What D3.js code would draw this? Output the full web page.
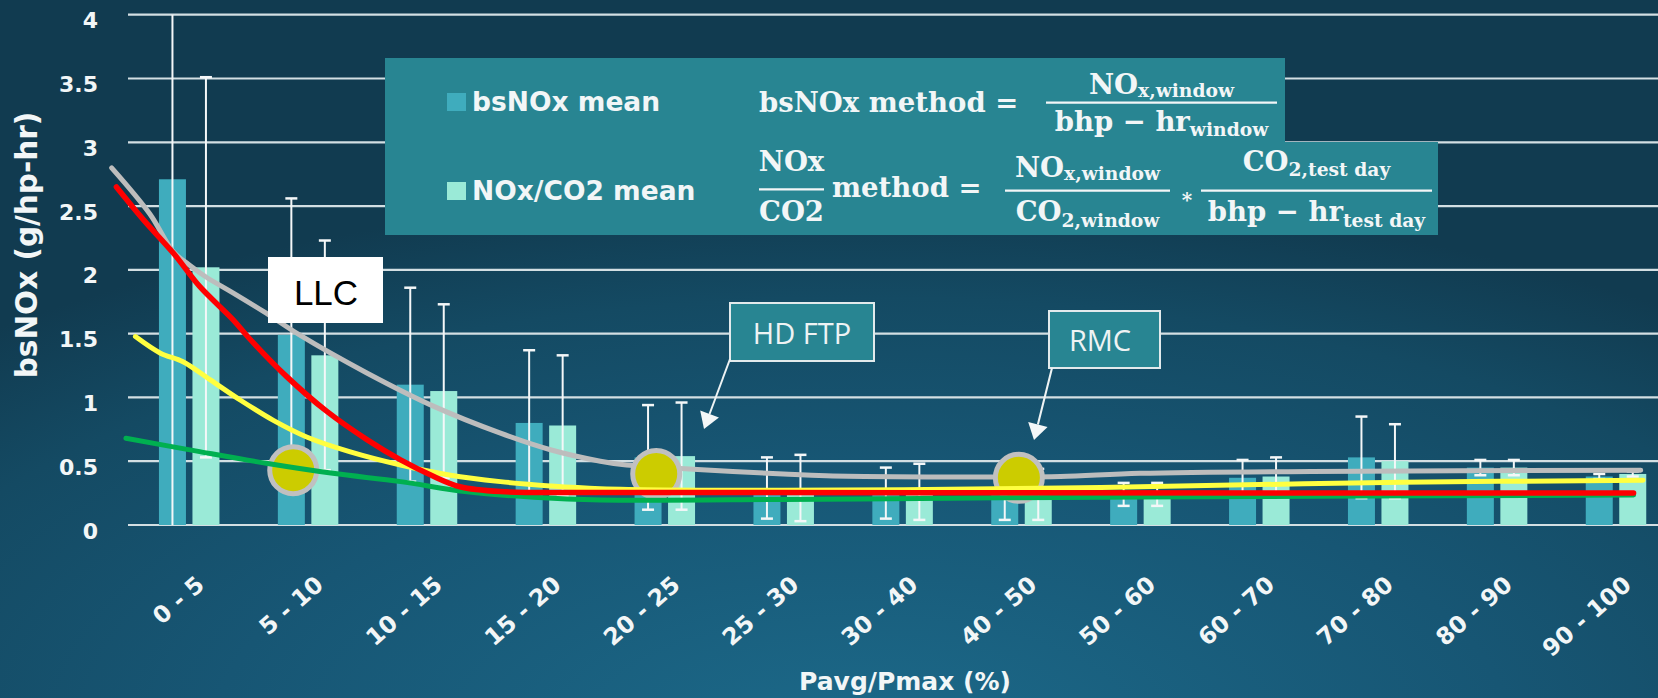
<!DOCTYPE html>
<html><head><meta charset="utf-8">
<script src="https://cdn.jsdelivr.net/npm/d3@7/dist/d3.min.js"></script>
<style>html,body{margin:0;padding:0;background:#123d52;overflow:hidden}svg{display:block}</style>
</head><body><svg id="c" width="1658" height="698"></svg>
<script>
// ---------- data ----------
const categories = ["0 - 5","5 - 10","10 - 15","15 - 20","20 - 25","25 - 30","30 - 40","40 - 50","50 - 60","60 - 70","70 - 80","80 - 90","90 - 100"];
const bsnoxMean = [2.71,1.49,1.10,0.80,0.53,0.29,0.25,0.24,0.24,0.37,0.53,0.45,0.38];
const bsnoxErr  = [2.90,1.07,0.76,0.57,0.41,0.24,0.20,0.20,0.09,0.14,0.32,0.06,0.02];
const co2Mean   = [2.02,1.33,1.05,0.78,0.54,0.29,0.26,0.24,0.24,0.38,0.50,0.45,0.40];
const co2Err    = [1.49,0.90,0.68,0.55,0.42,0.26,0.22,0.20,0.09,0.15,0.29,0.06,0.02];
const yTicks = [0,0.5,1,1.5,2,2.5,3,3.5,4];
// curves: [position in category units, value]
const grayCurve = [[-0.65,2.80],[-0.33,2.44],[-0.13,2.14],[0.00,2.04],[0.15,1.94],[0.37,1.82],[0.65,1.66],[0.93,1.49],[1.50,1.19],[2.06,0.93],[2.62,0.72],[3.04,0.59],[3.46,0.50],[3.68,0.47],[4.24,0.437],[5.00,0.40],[5.36,0.386],[6.76,0.376],[7.33,0.38],[8.00,0.405],[9.44,0.42],[12.21,0.43]];
const redCurve = [[-0.61,2.65],[-0.38,2.39],[-0.13,2.13],[0.09,1.87],[0.37,1.61],[0.51,1.46],[0.82,1.165],[1.16,0.89],[1.50,0.667],[1.78,0.51],[2.06,0.38],[2.28,0.30],[2.62,0.262],[3.46,0.255],[6.82,0.253],[12.15,0.25]];
const yellowCurve = [[-0.45,1.477],[-0.24,1.347],[-0.05,1.28],[0.18,1.137],[0.43,0.98],[0.71,0.82],[0.99,0.69],[1.35,0.575],[1.78,0.47],[2.20,0.39],[2.62,0.34],[3.04,0.306],[3.46,0.285],[4.99,0.272],[7.33,0.29],[8.00,0.30],[10.20,0.335],[12.23,0.35]];
const greenCurve = [[-0.53,0.68],[0.09,0.575],[0.65,0.484],[1.21,0.405],[1.78,0.34],[2.34,0.26],[2.90,0.217],[3.46,0.196],[4.99,0.20],[6.40,0.21],[8.00,0.22],[12.15,0.235]];
const cyclePoints = [[0.877,0.43],[3.93,0.40],[6.98,0.37]];
const legendLabels = ["bsNOx mean","NOx/CO2 mean"];
const cycleLabels = ["LLC","HD FTP","RMC"];

// ---------- layout ----------
const W=1658,H=698;
const svg=d3.select("#c");
const defs=svg.append("defs");
const grad=defs.append("radialGradient").attr("id","bg").attr("cx",0.52).attr("cy",1.05).attr("r",0.78);
[[0,"#1c6989"],[0.5,"#175674"],[0.8,"#144a63"],[1,"#113b50"]].forEach(([o,c])=>grad.append("stop").attr("offset",o).attr("stop-color",c));
svg.append("rect").attr("width",W).attr("height",H).attr("fill","url(#bg)");

const TXT="#f2f6f7";
const x=d3.scaleBand().domain(categories).range([129.5,1675.2]).paddingInner(0).paddingOuter(0);
const y=d3.scaleLinear().domain([0,4]).range([525,14.7]);
const cx=c=>x(c)+x.bandwidth()/2;
const xPos=d3.scaleLinear().domain([0,categories.length-1]).range([cx(categories[0]),cx(categories[categories.length-1])]);

// grid
svg.append("g").selectAll("line").data(yTicks).join("line")
  .attr("x1",128).attr("x2",W).attr("y1",d=>y(d)).attr("y2",d=>y(d))
  .attr("stroke","#d3dfe3").attr("stroke-width",2.2);

// y tick labels
svg.append("g").selectAll("text").data(yTicks).join("text")
  .attr("x",98).attr("y",d=>y(d)+6).attr("text-anchor","end").attr("dominant-baseline","central")
  .attr("font-family","DejaVu Sans").attr("font-weight","bold").attr("font-size",22).attr("fill",TXT)
  .text(d=>String(d));

// bars
const BW=27;
const series=[
  {mean:bsnoxMean,err:bsnoxErr,off:-30,color:"#3facbd"},
  {mean:co2Mean,err:co2Err,off:3.5,color:"#9aead7"}
];
const barG=svg.append("g"), errG=svg.append("g");
series.forEach(s=>{
  barG.selectAll(null).data(categories).join("rect")
    .attr("x",c=>cx(c)+s.off).attr("width",BW)
    .attr("y",(c,i)=>y(s.mean[i])).attr("height",(c,i)=>y(0)-y(s.mean[i]))
    .attr("fill",s.color);
  categories.forEach((c,i)=>{
    const m=s.mean[i],e=s.err[i];
    const lo=Math.max(0,m-e),hi=Math.min(4,m+e);
    const ex=cx(c)+s.off+BW/2;
    errG.append("line").attr("x1",ex).attr("x2",ex).attr("y1",y(lo)).attr("y2",y(hi)).attr("stroke","#f4f7f8").attr("stroke-width",2);
    if(m+e<=4) errG.append("line").attr("x1",ex-6).attr("x2",ex+6).attr("y1",y(hi)).attr("y2",y(hi)).attr("stroke","#f4f7f8").attr("stroke-width",2.5);
    if(m-e>=0) errG.append("line").attr("x1",ex-6).attr("x2",ex+6).attr("y1",y(lo)).attr("y2",y(lo)).attr("stroke","#f4f7f8").attr("stroke-width",2.5);
  });
});

// curves
const line=d3.line().x(d=>xPos(d[0])).y(d=>y(d[1])).curve(d3.curveCatmullRom.alpha(0.5));
function drawCurve(data,color,w){
  svg.append("path").datum(data).attr("d",line).attr("fill","none").attr("stroke",color).attr("stroke-width",w).attr("stroke-linecap","round");
}
drawCurve(grayCurve,"#bdbdbd",5);
svg.append("g").selectAll("circle").data(cyclePoints).join("circle")
  .attr("cx",d=>xPos(d[0])).attr("cy",d=>y(d[1])).attr("r",23.5)
  .attr("fill","#cccc00").attr("stroke","#c0c0c0").attr("stroke-width",5);
drawCurve(greenCurve,"#00b050",5);
drawCurve(yellowCurve,"#ffff40",5);
drawCurve(redCurve,"#ff0000",5.5);

// legend box
const lg=svg.append("g");
lg.append("path").attr("d","M385,58H1285V142H1438V235H385Z").attr("fill","#288592");
const legendColors=["#3facbd","#9aead7"];
legendLabels.forEach((t,i)=>{
  const ly=[102,191][i];
  lg.append("rect").attr("x",447).attr("y",ly-9).attr("width",19).attr("height",18).attr("fill",legendColors[i]);
  lg.append("text").attr("x",472).attr("y",ly+9).attr("font-family","DejaVu Sans").attr("font-weight","bold")
    .attr("font-size",26.5).attr("fill",TXT).text(t);
});
function rich(g,xx,yy,parts,size,anchor){
  const t=g.append("text").attr("x",xx).attr("y",yy).attr("text-anchor",anchor||"start")
    .attr("font-family","DejaVu Serif").attr("font-weight","bold").attr("font-size",size)
    .attr("fill",TXT).style("white-space","pre");
  let shift=0;
  parts.forEach(p=>{
    const target=p.sub?p.sub:0;
    const ts=t.append("tspan").attr("dy",target-shift).text(p.t);
    shift=target;
    if(p.sub) ts.attr("font-size",size*0.68);
  });
  return t;
}
function frac(g,x0,x1,barY,num,numY,den,denY,size){
  const c=(x0+x1)/2;
  rich(g,c,numY,num,size,"middle");
  g.append("line").attr("x1",x0).attr("x2",x1).attr("y1",barY).attr("y2",barY).attr("stroke",TXT).attr("stroke-width",2.2);
  rich(g,c,denY,den,size,"middle");
}
const FS=27.5;
rich(lg,759,112,[{t:"bsNOx method ="}],FS);
frac(lg,1046,1277,102.7,[{t:"NO"},{t:"x,window",sub:3}],94,[{t:"bhp − hr"},{t:"window",sub:5}],131,FS);
frac(lg,759,824,189.3,[{t:"NOx"}],171,[{t:"CO2"}],221,FS);
rich(lg,832,197,[{t:"method ="}],FS);
frac(lg,1005,1170,190.7,[{t:"NO"},{t:"x,window",sub:3}],177,[{t:"CO"},{t:"2,window",sub:6}],221,FS);
rich(lg,1187,207,[{t:"*"}],20,"middle");
frac(lg,1201,1432,190.7,[{t:"CO"},{t:"2,test day",sub:5}],171,[{t:"bhp − hr"},{t:"test day",sub:6}],221,FS);

// cycle label boxes
const ann=svg.append("g");
ann.append("rect").attr("x",268).attr("y",257).attr("width",115).attr("height",66).attr("fill","#ffffff");
ann.append("text").attr("x",326).attr("y",305).attr("text-anchor","middle").attr("font-family","Liberation Sans")
  .attr("font-size",35).attr("fill","#000").text(cycleLabels[0]);
const boxes=[
  {label:cycleLabels[1],x:730,y:303,w:144,h:58,tx:802,ty:344,from:[730,359],to:[704,429]},
  {label:cycleLabels[2],x:1049,y:311,w:111,h:57,tx:1100,ty:351,from:[1052,368],to:[1034,440]}
];
boxes.forEach(b=>{
  ann.append("rect").attr("x",b.x).attr("y",b.y).attr("width",b.w).attr("height",b.h)
    .attr("fill","#288592").attr("stroke","#e2eaec").attr("stroke-width",2);
  ann.append("text").attr("x",b.tx).attr("y",b.ty).attr("text-anchor","middle").attr("font-family","Open Sans")
    .attr("font-size",29).attr("fill","#eef3f4").text(b.label);
  const dx=b.to[0]-b.from[0],dy=b.to[1]-b.from[1],L=Math.hypot(dx,dy),ux=dx/L,uy=dy/L;
  const hl=16,hw=10;
  const bx=b.to[0]-ux*hl,by=b.to[1]-uy*hl;
  ann.append("line").attr("x1",b.from[0]).attr("y1",b.from[1]).attr("x2",bx).attr("y2",by).attr("stroke","#eef3f4").attr("stroke-width",2);
  ann.append("path").attr("d",`M${b.to[0]},${b.to[1]}L${bx-uy*hw},${by+ux*hw}L${bx+uy*hw},${by-ux*hw}Z`).attr("fill","#f4f7f8");
});

// x tick labels
svg.append("g").selectAll("text").data(categories).join("text")
  .attr("transform",c=>`translate(${cx(c)+17},587) rotate(-41)`)
  .attr("text-anchor","end").attr("font-family","DejaVu Sans").attr("font-weight","bold")
  .attr("font-size",23.5).attr("fill",TXT).text(c=>c);

// axis titles
svg.append("text").attr("x",905).attr("y",690).attr("text-anchor","middle").attr("font-family","DejaVu Sans")
  .attr("font-weight","bold").attr("font-size",25).attr("fill",TXT).text("Pavg/Pmax (%)");
svg.append("text").attr("transform","translate(37,245) rotate(-90)").attr("text-anchor","middle").attr("font-family","DejaVu Sans")
  .attr("font-weight","bold").attr("font-size",29.5).attr("fill",TXT).text("bsNOx (g/hp-hr)");
</script></body></html>
